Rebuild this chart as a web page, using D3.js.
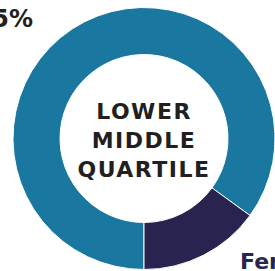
<!DOCTYPE html>
<html>
<head>
<meta charset="utf-8">
<script src="https://cdn.jsdelivr.net/npm/d3@7"></script>
<style>
  body { margin: 0; background: #fff; }
  svg { display: block; }
</style>
</head>
<body>
<div id="donut"></div>
<script>
const categories = ["Male", "Female"];
const shares = [85, 15];
const centerLines = ["LOWER", "MIDDLE", "QUARTILE"];
const colors = ["#1a779f", "#29244f"];

const width = 275;
const height = 271;
const cx = 144, cy = 138.5;
const outerR = 131, innerR = 84;

d3.select("#donut").selectAll("*").remove();

const svg = d3
  .select("#donut")
  .append("svg")
  .attr("width", width)
  .attr("height", height);

const data = categories.map((c, i) => ({ name: c, value: shares[i] }));

// keep data order, start at the bottom and go clockwise
const pie = d3
  .pie()
  .sort(null)
  .value((d) => d.value)
  .startAngle(Math.PI)
  .endAngle(3 * Math.PI);

const arc = d3.arc().innerRadius(innerR).outerRadius(outerR);

const g = svg.append("g").attr("transform", `translate(${cx},${cy})`);

g.selectAll("path")
  .data(pie(data))
  .join("path")
  .attr("d", arc)
  .attr("fill", (d, i) => colors[i])
  .attr("stroke", "#ffffff")
  .attr("stroke-width", 1);

// centre label
g.selectAll("text.center")
  .data(centerLines)
  .join("text")
  .attr("class", "center")
  .attr("text-anchor", "middle")
  .attr("y", (d, i) => -20 + i * 29)
  .style("font-family", "'DejaVu Sans', sans-serif")
  .style("font-weight", "bold")
  .style("font-size", "22px")
  .style("letter-spacing", "1.5px")
  .style("fill", "#231f20")
  .text((d) => d);

// outside labels (partly cut off by the frame)
svg.append("text")
  .attr("x", 33)
  .attr("y", 27)
  .attr("text-anchor", "end")
  .style("font-family", "'DejaVu Sans', sans-serif")
  .style("font-weight", "bold")
  .style("font-size", "24px")
  .style("fill", "#231f20")
  .text(shares[0] + "%");

svg.append("text")
  .attr("x", 240)
  .attr("y", 269)
  .style("font-family", "'DejaVu Sans', sans-serif")
  .style("font-weight", "bold")
  .style("font-size", "22px")
  .style("fill", colors[1])
  .text(categories[1]);
</script>
</body>
</html>
